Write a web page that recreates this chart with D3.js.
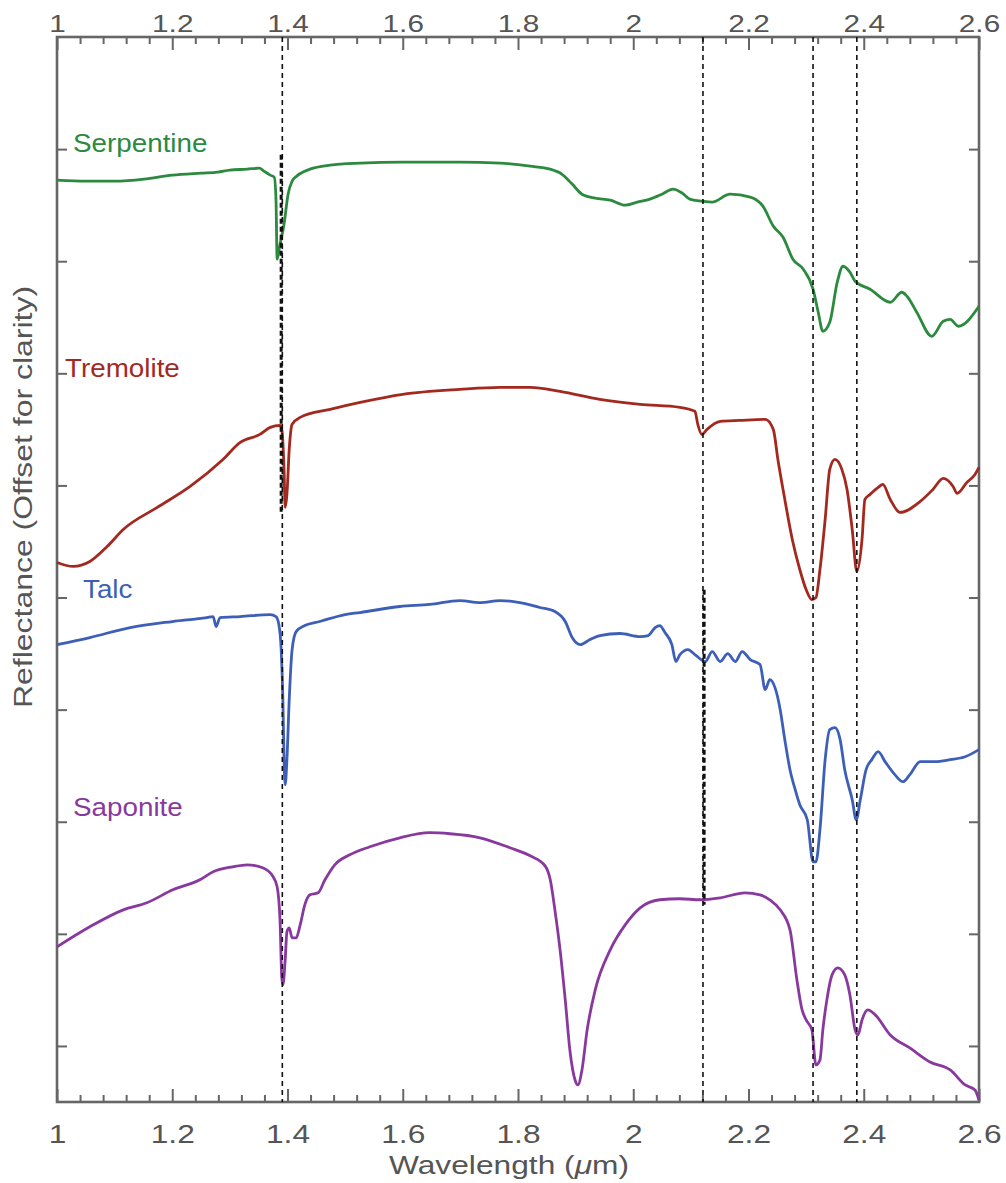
<!DOCTYPE html>
<html><head><meta charset="utf-8">
<script src="https://cdn.jsdelivr.net/npm/d3@7"></script>
<style>body{margin:0;background:#fff}svg{display:block}</style>
</head><body><div id="chart"></div>
<script>
// ---------- data (wavelength in µm, reflectance in offset units) ----------
const seriesNames = ["Serpentine", "Tremolite", "Talc", "Saponite"];

const serpentine = [[1.000,7.723],[1.050,7.714],[1.101,7.714],[1.151,7.732],[1.200,7.768],[1.250,7.786],[1.279,7.795],[1.300,7.813],[1.330,7.821],[1.351,7.830],[1.359,7.804],[1.370,7.768],[1.377,7.750],[1.380,7.554],[1.382,7.018],[1.387,7.152],[1.394,7.330],[1.401,7.598],[1.408,7.714],[1.416,7.759],[1.439,7.821],[1.474,7.857],[1.526,7.875],[1.600,7.884],[1.699,7.884],[1.769,7.875],[1.821,7.848],[1.856,7.821],[1.876,7.777],[1.894,7.688],[1.911,7.598],[1.934,7.563],[1.960,7.545],[1.986,7.500],[2.007,7.527],[2.029,7.554],[2.050,7.598],[2.069,7.643],[2.085,7.607],[2.098,7.554],[2.119,7.536],[2.137,7.527],[2.168,7.598],[2.203,7.571],[2.225,7.491],[2.243,7.313],[2.260,7.214],[2.277,7.018],[2.295,6.929],[2.312,6.750],[2.321,6.545],[2.329,6.375],[2.341,6.455],[2.354,6.813],[2.364,6.955],[2.376,6.902],[2.385,6.821],[2.411,6.750],[2.446,6.634],[2.466,6.723],[2.475,6.688],[2.492,6.545],[2.518,6.330],[2.538,6.464],[2.550,6.482],[2.564,6.420],[2.600,6.598]];

const tremolite = [[1.000,4.313],[1.028,4.277],[1.057,4.321],[1.087,4.455],[1.115,4.607],[1.174,4.804],[1.231,4.991],[1.288,5.232],[1.318,5.384],[1.352,5.455],[1.370,5.518],[1.387,5.536],[1.390,5.500],[1.394,5.143],[1.396,4.804],[1.399,4.920],[1.403,5.321],[1.408,5.545],[1.422,5.607],[1.474,5.679],[1.526,5.741],[1.600,5.813],[1.699,5.857],[1.769,5.875],[1.821,5.875],[1.873,5.839],[1.942,5.768],[2.012,5.723],[2.081,5.696],[2.107,5.661],[2.112,5.545],[2.119,5.455],[2.128,5.500],[2.151,5.571],[2.185,5.580],[2.229,5.589],[2.243,5.500],[2.251,5.232],[2.263,4.875],[2.276,4.518],[2.289,4.250],[2.300,4.071],[2.310,3.982],[2.317,4.000],[2.324,4.250],[2.333,4.696],[2.341,5.143],[2.350,5.232],[2.362,5.143],[2.371,4.964],[2.380,4.607],[2.388,4.232],[2.397,4.518],[2.402,4.875],[2.411,4.920],[2.425,4.982],[2.433,5.009],[2.446,4.875],[2.463,4.759],[2.498,4.857],[2.520,4.964],[2.538,5.063],[2.555,4.991],[2.562,4.929],[2.579,5.027],[2.593,5.098],[2.600,5.161]];

const talc = [[1.000,3.580],[1.057,3.643],[1.127,3.732],[1.200,3.786],[1.260,3.821],[1.271,3.830],[1.276,3.741],[1.283,3.821],[1.318,3.830],[1.370,3.848],[1.380,3.830],[1.385,3.759],[1.389,3.536],[1.392,3.089],[1.394,2.554],[1.396,2.330],[1.399,2.554],[1.403,3.089],[1.408,3.536],[1.415,3.696],[1.430,3.750],[1.456,3.786],[1.500,3.848],[1.526,3.866],[1.595,3.920],[1.647,3.938],[1.699,3.973],[1.734,3.955],[1.769,3.973],[1.803,3.955],[1.838,3.911],[1.864,3.875],[1.882,3.786],[1.894,3.643],[1.908,3.580],[1.925,3.625],[1.942,3.661],[1.977,3.679],[2.012,3.652],[2.026,3.661],[2.038,3.732],[2.046,3.750],[2.055,3.688],[2.067,3.580],[2.074,3.429],[2.081,3.491],[2.095,3.536],[2.107,3.491],[2.125,3.429],[2.137,3.518],[2.151,3.429],[2.164,3.500],[2.177,3.429],[2.189,3.518],[2.203,3.446],[2.220,3.402],[2.229,3.179],[2.237,3.268],[2.246,3.196],[2.255,3.000],[2.263,2.732],[2.272,2.464],[2.281,2.286],[2.289,2.152],[2.302,2.018],[2.312,1.643],[2.317,1.643],[2.324,1.929],[2.333,2.554],[2.341,2.821],[2.350,2.839],[2.359,2.732],[2.367,2.464],[2.380,2.196],[2.387,2.018],[2.394,2.196],[2.404,2.464],[2.414,2.554],[2.425,2.625],[2.437,2.536],[2.454,2.420],[2.468,2.357],[2.480,2.420],[2.498,2.536],[2.524,2.536],[2.550,2.554],[2.576,2.580],[2.600,2.643]];

const saponite = [[1.000,0.884],[1.057,1.063],[1.115,1.214],[1.156,1.277],[1.201,1.393],[1.248,1.482],[1.271,1.554],[1.305,1.598],[1.330,1.616],[1.357,1.589],[1.375,1.509],[1.382,1.420],[1.387,1.125],[1.390,0.616],[1.392,0.545],[1.396,0.768],[1.399,1.018],[1.403,1.054],[1.408,0.964],[1.415,0.964],[1.422,1.080],[1.430,1.259],[1.439,1.348],[1.453,1.366],[1.465,1.482],[1.482,1.616],[1.508,1.705],[1.543,1.777],[1.595,1.857],[1.647,1.902],[1.682,1.893],[1.734,1.857],[1.786,1.768],[1.821,1.696],[1.847,1.607],[1.856,1.482],[1.864,1.214],[1.873,0.857],[1.882,0.411],[1.890,-0.036],[1.899,-0.304],[1.904,-0.348],[1.911,-0.214],[1.920,0.143],[1.934,0.500],[1.960,0.857],[1.986,1.080],[2.012,1.232],[2.046,1.304],[2.081,1.313],[2.116,1.304],[2.151,1.321],[2.194,1.366],[2.220,1.348],[2.237,1.304],[2.255,1.214],[2.272,1.036],[2.284,0.589],[2.293,0.321],[2.300,0.232],[2.310,0.143],[2.317,-0.170],[2.324,-0.125],[2.329,0.143],[2.336,0.411],[2.345,0.634],[2.355,0.696],[2.367,0.634],[2.376,0.455],[2.385,0.143],[2.390,0.098],[2.397,0.232],[2.407,0.321],[2.420,0.277],[2.446,0.098],[2.480,-0.018],[2.515,-0.143],[2.550,-0.214],[2.576,-0.348],[2.593,-0.393],[2.600,-0.482]];

// absorption feature markers (µm)
const absorptionLines = [1.391, 2.121, 2.312, 2.388];
// emphasised stretches of marker lines: [wavelength, upper value, lower value]
const emphasisSegments = [[1.389, 7.95, 4.74], [2.123, 4.07, 1.26]];

const xTickValues = [1, 1.2, 1.4, 1.6, 1.8, 2, 2.2, 2.4, 2.6];
const xTickLabels = ["1", "1.2", "1.4", "1.6", "1.8", "2", "2.2", "2.4", "2.6"];
const yTickValues = [0, 1, 2, 3, 4, 5, 6, 7, 8];

// ---------- drawing ----------
(function () {
const W = 1006, H = 1183;
const pL = 57, pR = 979, pT = 37, pB = 1102;
const colors = {Serpentine: "#2b8a3e", Tremolite: "#a3291f", Talc: "#3d5fb8", Saponite: "#89399e"};
const labelPos = {Serpentine: [73, 152], Tremolite: [65, 377], Talc: [83, 598], Saponite: [73, 816]};
const axisGray = "#666";
const textGray = "#555";
const FONT = "'Liberation Sans', Arial, Helvetica, sans-serif";

const svg = d3.select("#chart").append("svg").attr("width", W).attr("height", H)
  .style("background", "#fff");

const x = d3.scaleLinear().domain([1, 2.6]).range([pL, pR]);
const y = d3.scaleLinear().domain([-0.5, 9.0]).range([pB, pT]);

// minor ticks every 0.04 µm
const minorTicks = d3.range(0, 41).map(i => 1 + i * 0.04)
  .filter(v => Math.abs(v * 5 - Math.round(v * 5)) > 1e-6);

function styleAxis(g) {
  g.select(".domain").remove();
  g.selectAll(".tick line").attr("stroke", axisGray).attr("stroke-width", 2);
}

// bottom axis
const gb = svg.append("g").attr("transform", `translate(0,${pB})`)
  .call(d3.axisBottom(x).tickValues(xTickValues).tickSize(-13)
    .tickFormat((d, i) => xTickLabels[i]));
styleAxis(gb);
gb.selectAll(".tick text").attr("y", 41).attr("dy", null)
  .attr("fill", textGray).style("font-family", FONT).style("font-size", "26px")
  .attr("transform", "scale(1.22,1)");
svg.append("g").attr("transform", `translate(0,${pB})`)
  .call(d3.axisBottom(x).tickValues(minorTicks).tickSize(-7).tickFormat(""))
  .call(styleAxis);

// top axis
const gt = svg.append("g").attr("transform", `translate(0,${pT})`)
  .call(d3.axisTop(x).tickValues(xTickValues).tickSize(-13)
    .tickFormat((d, i) => xTickLabels[i]));
styleAxis(gt);
gt.selectAll(".tick text").attr("y", -5).attr("dy", null)
  .attr("fill", textGray).style("font-family", FONT).style("font-size", "24px")
  .attr("transform", "scale(1.24,1)");
svg.append("g").attr("transform", `translate(0,${pT})`)
  .call(d3.axisTop(x).tickValues(minorTicks).tickSize(-7).tickFormat(""))
  .call(styleAxis);

// left / right axes (no labels)
svg.append("g").attr("transform", `translate(${pL},0)`)
  .call(d3.axisLeft(y).tickValues(yTickValues).tickSize(-10).tickFormat(""))
  .call(styleAxis);
svg.append("g").attr("transform", `translate(${pR},0)`)
  .call(d3.axisRight(y).tickValues(yTickValues).tickSize(-10).tickFormat(""))
  .call(styleAxis);

// frame
svg.append("rect").attr("x", pL).attr("y", pT)
  .attr("width", pR - pL).attr("height", pB - pT)
  .attr("fill", "none").attr("stroke", axisGray).attr("stroke-width", 2.6);

// spectra
const line = d3.line().x(d => x(d[0])).y(d => y(d[1])).curve(d3.curveMonotoneX);
const allSeries = [serpentine, tremolite, talc, saponite];
allSeries.forEach((s, i) => {
  svg.append("path").datum(s).attr("d", line)
    .attr("fill", "none").attr("stroke", colors[seriesNames[i]])
    .attr("stroke-width", 2.8).attr("stroke-linejoin", "round");
});

// absorption marker lines
svg.selectAll("line.marker").data(absorptionLines).enter().append("line")
  .attr("class", "marker")
  .attr("x1", d => x(d)).attr("x2", d => x(d))
  .attr("y1", y(9.0)).attr("y2", y(-0.5))
  .attr("stroke", "#111").attr("stroke-width", 1.6).attr("stroke-dasharray", "5,4");
svg.selectAll("line.emph").data(emphasisSegments).enter().append("line")
  .attr("class", "emph")
  .attr("x1", d => x(d[0])).attr("x2", d => x(d[0]))
  .attr("y1", d => y(d[1])).attr("y2", d => y(d[2]))
  .attr("stroke", "#111").attr("stroke-width", 3).attr("stroke-dasharray", "5,3");

// series labels
seriesNames.forEach(n => {
  svg.append("g").attr("transform", `translate(${labelPos[n][0]},${labelPos[n][1]}) scale(1.07,1)`)
    .append("text").text(n)
    .attr("fill", colors[n]).style("font-family", FONT).style("font-size", "26px");
});

// axis titles
const xt = svg.append("g").attr("transform", `translate(509,1174) scale(1.22,1)`)
  .append("text").attr("text-anchor", "middle").attr("fill", textGray)
  .style("font-family", FONT).style("font-size", "26px");
xt.append("tspan").text("Wavelength (");
xt.append("tspan").text("\u03bc").style("font-style", "italic");
xt.append("tspan").text("m)");

svg.append("g").attr("transform", `translate(32,497) rotate(-90) scale(1.23,1)`)
  .append("text").attr("text-anchor", "middle").attr("fill", textGray)
  .style("font-family", FONT).style("font-size", "26px")
  .text("Reflectance (Offset for clarity)");
})();
</script></body></html>
